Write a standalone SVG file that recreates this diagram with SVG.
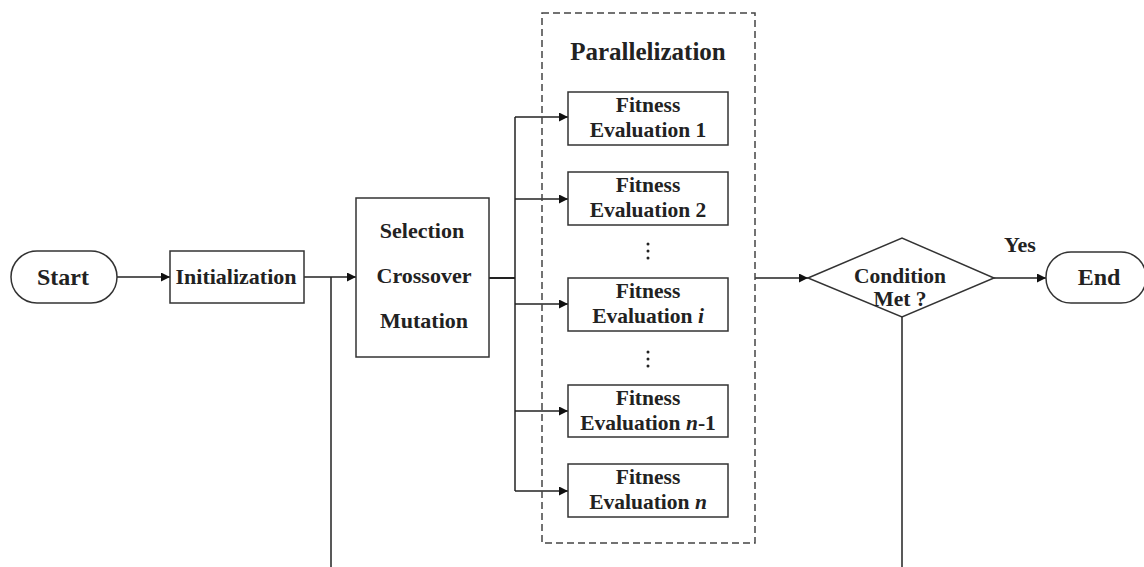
<svg xmlns="http://www.w3.org/2000/svg" width="1144" height="567" viewBox="0 0 1144 567">
<style>
.box{fill:#fff;stroke:#333;stroke-width:1.5}
.ln{fill:none;stroke:#222;stroke-width:1.5}
.dash{fill:none;stroke:#444;stroke-width:1.5;stroke-dasharray:7,4}
text{font-family:"Liberation Serif","Times New Roman",serif;font-weight:bold;fill:#222;text-anchor:middle}
.t22{font-size:22px}
.t24{font-size:24px}
.t25{font-size:25px}
.tf{font-size:21.5px}
</style>
<defs>
<marker id="arr" viewBox="0 0 10 10" refX="10" refY="5" markerWidth="9" markerHeight="9" markerUnits="userSpaceOnUse" orient="auto">
<path d="M0,0 L10,5 L0,10 z" fill="#111"/>
</marker>
</defs>
<rect width="1144" height="567" fill="#fff"/>
<g id="connectors">
<line class="ln" x1="117" y1="277" x2="170" y2="277" marker-end="url(#arr)"/>
<line class="ln" x1="304" y1="277" x2="356" y2="277" marker-end="url(#arr)"/>
<line class="ln" x1="331" y1="277" x2="331" y2="567"/>
<line class="ln" x1="489" y1="278" x2="515" y2="278" style="stroke-width:2"/>
<line class="ln" x1="515" y1="117" x2="515" y2="491"/>
<line class="ln" x1="515" y1="117" x2="568" y2="117" marker-end="url(#arr)"/>
<line class="ln" x1="515" y1="199" x2="568" y2="199" marker-end="url(#arr)"/>
<line class="ln" x1="515" y1="304" x2="568" y2="304" marker-end="url(#arr)"/>
<line class="ln" x1="515" y1="411" x2="568" y2="411" marker-end="url(#arr)"/>
<line class="ln" x1="515" y1="491" x2="568" y2="491" marker-end="url(#arr)"/>
<line class="ln" x1="755" y1="278" x2="808" y2="278" marker-end="url(#arr)"/>
<line class="ln" x1="994" y1="278" x2="1046" y2="278" marker-end="url(#arr)"/>
<line class="ln" x1="902" y1="317" x2="902" y2="567"/>
<text class="t22" x="1020" y="252">Yes</text>
</g>
<g id="parallel">
<rect class="dash" x="542" y="13" width="213" height="530"/>
<text class="t25" x="648" y="60">Parallelization</text>
<g fill="#222">
<circle cx="648" cy="244" r="1.5"/><circle cx="648" cy="251" r="1.5"/><circle cx="648" cy="258" r="1.5"/>
<circle cx="648" cy="352" r="1.5"/><circle cx="648" cy="359" r="1.5"/><circle cx="648" cy="366" r="1.5"/>
</g>
</g>
<g id="start">
<rect class="box" x="11" y="251" width="106" height="52" rx="26"/>
<text class="t24" x="63" y="285">Start</text>
</g>
<g id="init">
<rect class="box" x="170" y="251" width="134" height="52"/>
<text class="t22" x="236" y="284">Initialization</text>
</g>
<g id="sel">
<rect class="box" x="356" y="198" width="133" height="159"/>
<text class="t22" x="422" y="238">Selection</text>
<text class="t22" x="424" y="283">Crossover</text>
<text class="t22" x="424" y="328">Mutation</text>
</g>
<g id="fe1">
<rect class="box" x="568" y="92" width="160" height="53"/>
<text class="tf" x="648" y="112">Fitness</text>
<text class="tf" x="648" y="137">Evaluation 1</text>
</g>
<g id="fe2">
<rect class="box" x="568" y="172" width="160" height="53"/>
<text class="tf" x="648" y="192">Fitness</text>
<text class="tf" x="648" y="217">Evaluation 2</text>
</g>
<g id="fei">
<rect class="box" x="568" y="278" width="160" height="53"/>
<text class="tf" x="648" y="298">Fitness</text>
<text class="tf" x="648" y="323">Evaluation <tspan font-style="italic">i</tspan></text>
</g>
<g id="fen1">
<rect class="box" x="568" y="385" width="160" height="52"/>
<text class="tf" x="648" y="405">Fitness</text>
<text class="tf" x="648" y="430">Evaluation <tspan font-style="italic">n</tspan>-1</text>
</g>
<g id="fen">
<rect class="box" x="568" y="464" width="160" height="53"/>
<text class="tf" x="648" y="484">Fitness</text>
<text class="tf" x="648" y="509">Evaluation <tspan font-style="italic">n</tspan></text>
</g>
<g id="cond">
<polygon class="box" points="808,278 902,238 994,278 902,317"/>
<text class="tf" x="900" y="283">Condition</text>
<text class="tf" x="900" y="306">Met ?</text>
</g>
<g id="end">
<rect class="box" x="1046" y="252" width="100" height="51" rx="25"/>
<text class="t24" x="1099" y="285">End</text>
</g>
</svg>
